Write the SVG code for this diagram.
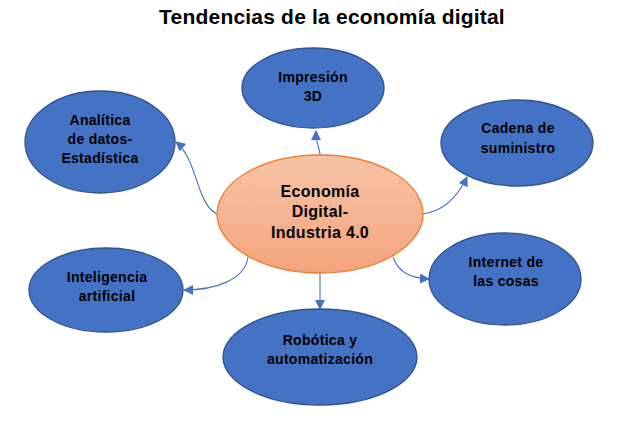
<svg xmlns="http://www.w3.org/2000/svg" width="633" height="433" viewBox="0 0 633 433">
<defs>
<linearGradient id="og" x1="0" y1="0" x2="0" y2="1">
<stop offset="0" stop-color="#F6C3A6"/>
<stop offset="1" stop-color="#F4A47C"/>
</linearGradient>
<marker id="ar" viewBox="0 0 10 10" refX="9" refY="5" markerWidth="10" markerHeight="10" markerUnits="userSpaceOnUse" orient="auto">
<path d="M0,0 L10,5 L0,10 Z" fill="#4472C4"/>
</marker>
</defs>
<style>
.node{fill:#4472C4;stroke:#2F528F;stroke-width:1.3}
.lbl{font-family:"Liberation Sans",Arial,sans-serif;font-weight:bold;font-size:14px;fill:#000;text-anchor:middle;letter-spacing:0.3px}
.clbl{font-size:16px}
.con{fill:none;stroke:#4472C4;stroke-width:1.1;marker-end:url(#ar)}
</style>
<rect width="633" height="433" fill="#fff"/>
<text x="332" y="24" class="lbl" style="font-size:21px;letter-spacing:0.2px">Tendencias de la economía digital</text>
<g id="connectors">
<path class="con" d="M320,155 C320,148 316,146 316,131"/>
<path class="con" d="M217,214 C196,204 198,160 176,142"/>
<path class="con" d="M422,214 C440,212 456,200 467,177"/>
<path class="con" d="M393,257 C398,272 410,278 429,279"/>
<path class="con" d="M320,273 C320,285 320,295 320,309"/>
<path class="con" d="M248,257 C245,280 215,290 184,290"/>
</g>
<g id="center">
<ellipse cx="320" cy="214" rx="103" ry="59" fill="url(#og)" stroke="#ED7D31" stroke-width="1.3"/>
<text class="lbl clbl" x="320" y="197">Economía</text>
<text class="lbl clbl" x="320" y="217">Digital-</text>
<text class="lbl clbl" x="320" y="238">Industria 4.0</text>
</g>
<g id="impresion">
<ellipse class="node" cx="313" cy="88" rx="71" ry="40"/>
<text class="lbl" x="313" y="82">Impresión</text>
<text class="lbl" x="313" y="101">3D</text>
</g>
<g id="analitica">
<ellipse class="node" cx="100" cy="142" rx="75" ry="51"/>
<text class="lbl" x="100" y="125">Analítica</text>
<text class="lbl" x="100" y="144">de datos-</text>
<text class="lbl" x="100" y="163">Estadística</text>
</g>
<g id="cadena">
<ellipse class="node" cx="517" cy="143" rx="76" ry="43"/>
<text class="lbl" x="518" y="133">Cadena de</text>
<text class="lbl" x="518" y="153">suministro</text>
</g>
<g id="internet">
<ellipse class="node" cx="505" cy="279" rx="76" ry="46"/>
<text class="lbl" x="506" y="267">Internet de</text>
<text class="lbl" x="506" y="286">las cosas</text>
</g>
<g id="inteligencia">
<ellipse class="node" cx="106" cy="290" rx="77" ry="42"/>
<text class="lbl" x="107" y="282">Inteligencia</text>
<text class="lbl" x="107" y="301">artificial</text>
</g>
<g id="robotica">
<ellipse class="node" cx="320" cy="357" rx="97" ry="48"/>
<text class="lbl" x="320" y="345">Robótica y</text>
<text class="lbl" x="320" y="364">automatización</text>
</g>
</svg>
